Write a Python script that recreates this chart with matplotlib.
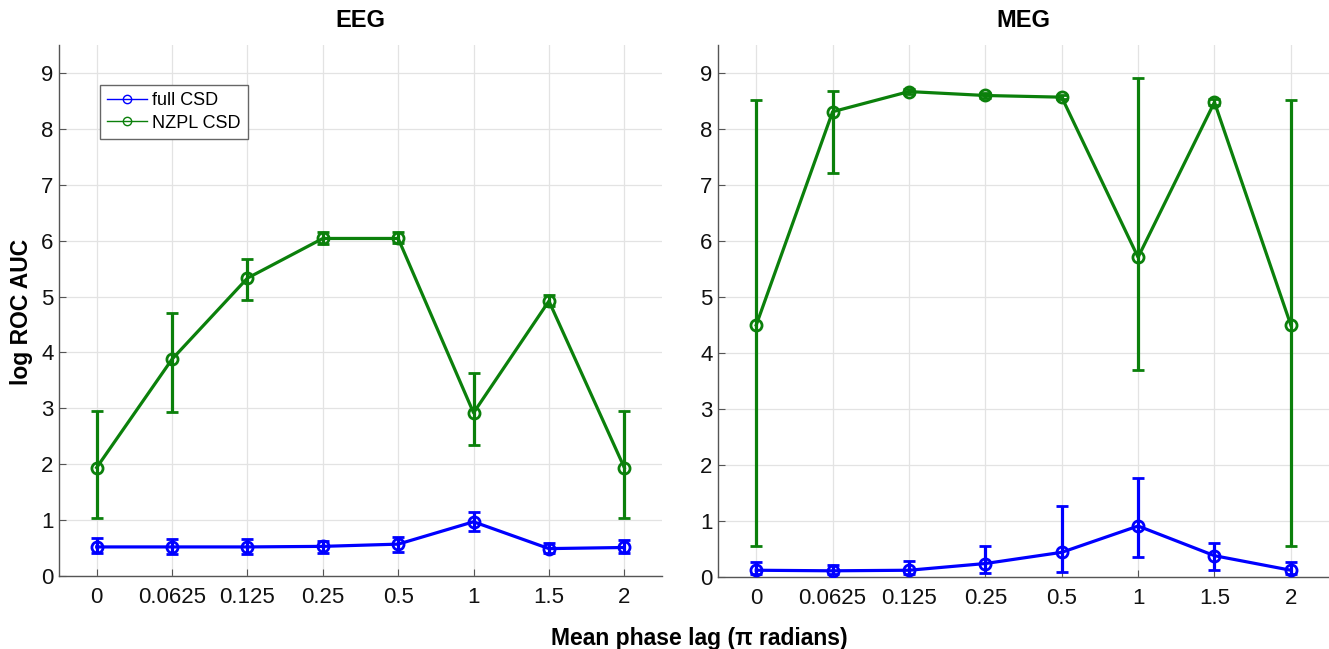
import matplotlib.pyplot as plt
from matplotlib.lines import Line2D
import numpy as np

plt.rcParams['font.family'] = ['Liberation Sans', 'DejaVu Sans']

lags = ['0', '0.0625', '0.125', '0.25', '0.5', '1', '1.5', '2']

# EEG
eeg_full = [0.52, 0.52, 0.52, 0.53, 0.57, 0.97, 0.49, 0.51]
eeg_full_lo = [0.41, 0.39, 0.40, 0.42, 0.43, 0.81, 0.41, 0.41]
eeg_full_hi = [0.68, 0.66, 0.66, 0.63, 0.70, 1.15, 0.59, 0.64]
eeg_nzpl = [1.94, 3.88, 5.33, 6.04, 6.04, 2.92, 4.92, 1.94]
eeg_nzpl_lo = [1.03, 2.93, 4.93, 5.94, 5.95, 2.35, 4.83, 1.03]
eeg_nzpl_hi = [2.95, 4.71, 5.68, 6.16, 6.16, 3.63, 5.03, 2.95]

# MEG
meg_full = [0.12, 0.11, 0.12, 0.24, 0.44, 0.91, 0.38, 0.12]
meg_full_lo = [0.06, 0.05, 0.05, 0.07, 0.09, 0.36, 0.13, 0.05]
meg_full_hi = [0.27, 0.21, 0.29, 0.56, 1.27, 1.77, 0.61, 0.27]
meg_nzpl = [4.50, 8.31, 8.67, 8.60, 8.57, 5.71, 8.48, 4.50]
meg_nzpl_lo = [0.56, 7.21, 8.62, 8.56, 8.54, 3.70, 8.43, 0.56]
meg_nzpl_hi = [8.52, 8.68, 8.72, 8.64, 8.60, 8.91, 8.53, 8.52]

BLUE = '#0000ff'
GREEN = '#0b800b'

fig = plt.figure(figsize=(13.29, 6.49), dpi=100)
ax1 = fig.add_axes([0.0444, 0.1125, 0.4537, 0.818])
ax2 = fig.add_axes([0.5403, 0.1110, 0.4597, 0.8195])

x = np.arange(len(lags))


def draw(ax, vals, lo, hi, color):
    vals = np.array(vals)
    err = [vals - np.array(lo), np.array(hi) - vals]
    ax.errorbar(x, vals, yerr=err, color=color, lw=2.3, marker='o',
                markersize=8, markerfacecolor='none', markeredgewidth=2,
                capsize=4.5, capthick=2.3, elinewidth=2.3, zorder=3)


for ax, title, full, flo, fhi, nz, nlo, nhi in [
        (ax1, 'EEG', eeg_full, eeg_full_lo, eeg_full_hi, eeg_nzpl, eeg_nzpl_lo, eeg_nzpl_hi),
        (ax2, 'MEG', meg_full, meg_full_lo, meg_full_hi, meg_nzpl, meg_nzpl_lo, meg_nzpl_hi)]:
    draw(ax, nz, nlo, nhi, GREEN)
    draw(ax, full, flo, fhi, BLUE)
    ax.set_xlim(-0.5, 7.5)
    ax.set_ylim(0, 9.5)
    ax.set_xticks(x)
    ax.set_xticklabels(lags)
    ax.set_yticks(range(10))
    ax.grid(True, color='#e3e3e3', lw=0.9)
    ax.set_axisbelow(True)
    for s in ['top', 'right']:
        ax.spines[s].set_visible(False)
    for s in ['left', 'bottom']:
        ax.spines[s].set_color('#555555')
        ax.spines[s].set_linewidth(1.0)
    ax.tick_params(direction='in', length=5, labelsize=16, colors='#111111',
                   color='#555555')
    ax.tick_params(axis='x', pad=8)
    ax.tick_params(axis='y', pad=4)
    ax.text(0.5, 1.047, title, transform=ax.transAxes, ha='center', va='center',
            fontsize=17, fontweight='bold')

fig.text(22 / 1329, 1 - 312 / 649, 'log ROC AUC', rotation=90, ha='center',
         va='center', fontsize=16.5, fontweight='bold')
fig.text(699 / 1329, 1 - 638 / 649, 'Mean phase lag (\u03c0 radians)', ha='center',
         va='center', fontsize=16.5, fontweight='bold')

handles = [Line2D([], [], color=BLUE, lw=1, marker='o', markersize=6, markerfacecolor='none'),
           Line2D([], [], color=GREEN, lw=1, marker='o', markersize=6, markerfacecolor='none')]
leg = ax1.legend(handles, ['full CSD', 'NZPL CSD'], loc='upper left',
                 bbox_to_anchor=(0.068, 0.925), borderaxespad=0, fontsize=13,
                 fancybox=False, edgecolor='#666666', framealpha=1,
                 handlelength=2.2, handletextpad=0.3, borderpad=0.4,
                 labelspacing=0.3)
leg.get_frame().set_linewidth(1.0)

fig.savefig('out.png', dpi=100)
